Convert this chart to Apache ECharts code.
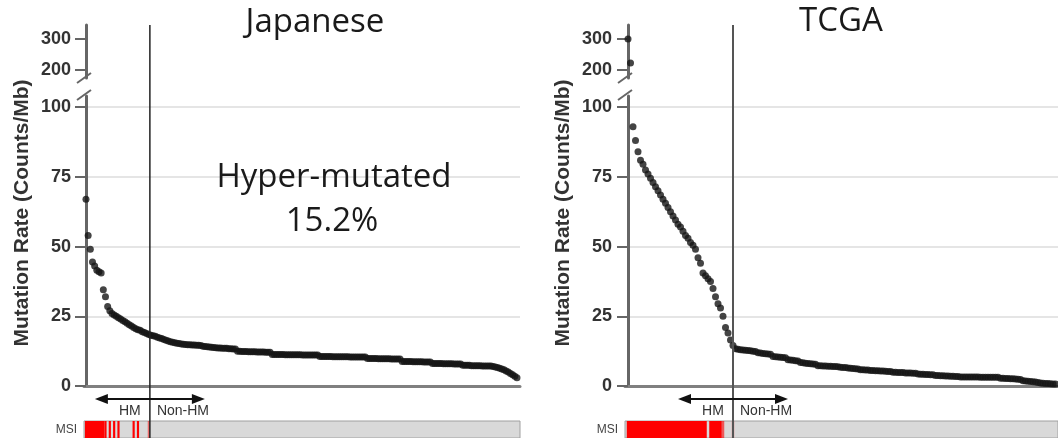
<!DOCTYPE html>
<html><head><meta charset="utf-8">
<script src="https://cdn.jsdelivr.net/npm/echarts@6/dist/echarts.min.js"></script>
<style>html,body{margin:0;padding:0;background:#fff}#c{width:1058px;height:438px}</style>
</head><body><div id="c"></div>
<script>
// ---------- data ----------
const panelTitles = ['Japanese', 'TCGA'];
const yAxisTitle = 'Mutation Rate (Counts/Mb)';
const annotationLines = ['Hyper-mutated', '15.2%'];
const lowerTicks = [0, 25, 50, 75, 100];
const upperTicks = [200, 300];
const hmLabels = ['HM', 'Non-HM'];

// Japanese cohort, samples sorted by mutation rate
const japaneseRates = [
  67, 54, 49, 44.5, 43, 41.5, 41, 40.5, 34.5, 32, 28.5, 27, 26, 25.5, 25, 24.5, 24, 23.5, 23, 22.5,
  22, 21.5, 21, 20.5, 20.2, 20, 19.5, 19.2, 18.8, 18.5,
  18.2, 18, 17.8, 17.5, 17.2, 17, 16.7, 16.4, 16.1, 15.9, 15.7, 15.5,
  15.3, 15.2, 15.1, 15.0, 14.9, 14.8, 14.8, 14.7, 14.7, 14.6, 14.6, 14.5,
  14.3, 14.2, 14.1, 14.0, 13.9, 13.8, 13.7,
  13.6, 13.6, 13.5, 13.5, 13.5, 13.4, 13.4, 13.3, 13.3,
  12.5, 12.5, 12.4, 12.4, 12.4, 12.3, 12.3, 12.3, 12.3, 12.2, 12.2, 12.2, 12.2, 12.1, 12.1, 12.1,
  11.3, 11.3, 11.3, 11.3, 11.3, 11.3, 11.2, 11.2, 11.2, 11.2, 11.2, 11.2, 11.2, 11.2, 11.1, 11.1, 11.1, 11.1, 11.1, 11.1, 11.1, 11.1,
  10.6, 10.6, 10.6, 10.6, 10.6, 10.6, 10.5, 10.5, 10.5, 10.5, 10.5, 10.5, 10.5, 10.5, 10.4, 10.4, 10.4, 10.4, 10.4, 10.4, 10.4, 10.4,
  9.9, 9.9, 9.9, 9.9, 9.9, 9.8, 9.8, 9.8, 9.8, 9.8, 9.8, 9.7, 9.7, 9.7, 9.7, 9.7,
  8.8, 8.8, 8.8, 8.8, 8.8, 8.7, 8.7, 8.7, 8.7, 8.7, 8.6, 8.6, 8.6, 8.6,
  8.1, 8.1, 8.1, 8.1, 8.1, 8.0, 8.0, 8.0, 8.0, 8.0, 7.9, 7.9, 7.9, 7.9,
  7.4, 7.4, 7.4, 7.4, 7.3, 7.3, 7.3, 7.3, 7.3, 7.2, 7.2, 7.2, 7.2, 7.2,
  7.0, 6.8, 6.6, 6.4, 6.1, 5.8, 5.4, 5.0, 4.5, 4.0, 3.5, 3.0
];

// TCGA cohort, samples sorted by mutation rate
const tcgaRates = [
  300, 222, 93, 88, 84, 81, 79.5, 77.5, 76, 74.5, 73, 71.5, 70, 68.5, 67, 65.5, 64, 62.5, 61, 59.5,
  58, 57, 55.5, 54, 53, 51.5, 50.5, 49, 46, 44, 40.5, 39.5, 38.5, 37.5, 35, 32, 29.5, 28, 25, 21,
  19, 16.5, 14.5,
  13.4, 13.2, 13.0, 12.9, 12.8, 12.7, 12.6, 12.5, 12.4,
  11.9, 11.8, 11.7, 11.6, 11.5, 11.4,
  10.6, 10.5, 10.4, 10.3, 10.2, 10.1,
  9.4, 9.3, 9.2, 9.1, 9.0,
  8.4, 8.3, 8.2, 8.1, 8.0, 7.9, 7.8,
  7.3, 7.3, 7.2, 7.2, 7.1, 7.1, 7.0, 7.0, 6.9,
  6.7, 6.6, 6.6, 6.5, 6.4, 6.3, 6.2, 6.1,
  5.8, 5.8, 5.7, 5.7, 5.6, 5.6, 5.5, 5.5, 5.4, 5.4, 5.3, 5.2, 5.2,
  4.9, 4.9, 4.8, 4.8, 4.8, 4.7, 4.7, 4.7, 4.6, 4.6,
  4.3, 4.2, 4.2, 4.1, 4.1, 4.0, 4.0,
  3.8, 3.8, 3.7, 3.7, 3.6, 3.6, 3.5, 3.5, 3.4, 3.4,
  3.2, 3.2, 3.2, 3.2, 3.2, 3.2, 3.2, 3.2, 3.1, 3.1, 3.1, 3.1, 3.1, 3.1, 3.1, 3.1,
  2.8, 2.8, 2.7, 2.7, 2.6, 2.6, 2.5, 2.4, 2.3,
  1.9, 1.8, 1.7, 1.6, 1.5, 1.4, 1.3,
  1.1, 1.0, 0.9, 0.9, 0.8, 0.7, 0.7
];

// HM / non-HM boundary (sample index)
const hmBoundary = [29.5, 42];

// MSI-high runs: [firstSample, lastSample, intensity]
const msiJapanese = [[0, 8, 1], [9, 9, 1], [11, 11, 1], [13, 13, 1], [15, 15, 1], [22, 22, 1], [24, 24, 1], [29, 29, 0.5]];
const msiTcga = [[0, 31, 1], [33, 37, 1], [38, 38, 0.6], [42, 42, 0.35]];

// ---------- layout ----------
const panels = [
  { rates: japaneseRates, msi: msiJapanese, left: 84, width: 436, xMin: -0.92, xMax: 200.4 },
  { rates: tcgaRates, msi: msiTcga, left: 625, width: 433, xMin: -1.2, xMax: 172 }
];
const BREAK_LO = 104, BREAK_HI = 174;
const AXIS_COLOR = '#666';
const LABEL_FONT = 'Liberation Sans, Arial, sans-serif';

const grid = [], xAxis = [], yAxis = [], series = [];
panels.forEach((p, k) => {
  const g0 = k * 3;
  grid.push({ left: p.left, top: 25, width: p.width, height: 53 });
  grid.push({ left: p.left, top: 96, width: p.width, height: 290 });
  grid.push({ left: p.left, top: 421, width: p.width, height: 20, show: true, backgroundColor: '#d9d9d9', borderColor: '#a0a0a0', borderWidth: 1 });
  for (let j = 0; j < 3; j++) {
    xAxis.push({
      type: 'value', gridIndex: g0 + j, min: p.xMin, max: p.xMax,
      axisLine: { show: j === 1, onZero: false, lineStyle: { color: '#808080', width: 3 } },
      axisTick: { show: false }, axisLabel: { show: false }, splitLine: { show: false }
    });
  }
  const labelStyle = { fontSize: 18, fontWeight: 'bold', color: '#333', fontFamily: LABEL_FONT, margin: 13 };
  yAxis.push({
    type: 'value', gridIndex: g0, min: BREAK_HI, max: 345,
    axisLine: { show: true, lineStyle: { color: AXIS_COLOR, width: 3 } },
    axisTick: { show: true, length: 11, customValues: upperTicks, lineStyle: { color: AXIS_COLOR, width: 2 } },
    axisLabel: Object.assign({ customValues: upperTicks }, labelStyle),
    splitLine: { show: false }
  });
  yAxis.push({
    type: 'value', gridIndex: g0 + 1, min: 0, max: BREAK_LO,
    axisLine: { show: true, lineStyle: { color: AXIS_COLOR, width: 3 } },
    axisTick: { show: true, length: 11, customValues: lowerTicks, lineStyle: { color: AXIS_COLOR, width: 2 } },
    axisLabel: Object.assign({ customValues: lowerTicks }, labelStyle),
    splitLine: { show: true, lineStyle: { color: '#dcdcdc', width: 1.5 } }
  });
  yAxis.push({ type: 'value', gridIndex: g0 + 2, min: 0, max: 1, show: false });

  const pts = p.rates.map((v, i) => [i, v]);
  const dot = { type: 'scatter', symbol: 'circle', symbolSize: 7, itemStyle: { color: '#151515' }, silent: true, z: 3 };
  series.push(Object.assign({ xAxisIndex: g0, yAxisIndex: g0, data: pts.filter(d => d[1] > BREAK_LO) }, dot));
  series.push(Object.assign({ xAxisIndex: g0 + 1, yAxisIndex: g0 + 1, data: pts.filter(d => d[1] <= BREAK_LO) }, dot));
  series.push({
    type: 'custom', xAxisIndex: g0 + 2, yAxisIndex: g0 + 2, data: p.msi, silent: true,
    renderItem: (params, api) => {
      const a = api.coord([api.value(0) - 0.5, 0]);
      const b = api.coord([api.value(1) + 0.5, 1]);
      return { type: 'rect', shape: { x: a[0], y: b[1], width: b[0] - a[0], height: a[1] - b[1] },
               style: { fill: '#ff0000', opacity: api.value(2) } };
    }
  });
});

const chart = echarts.init(document.getElementById('c'), null, { renderer: 'canvas' });
chart.setOption({ animation: false, backgroundColor: '#fff', grid, xAxis, yAxis, series });

// ---------- annotations ----------
const graphic = [];
const txt = (x, y, text, font, fill, align, rot) => ({
  type: 'text', x, y, rotation: rot || 0, silent: true, z: 10,
  style: { text, font, fill, textAlign: align || 'center', textVerticalAlign: 'middle' }
});
const line = (x1, y1, x2, y2, stroke, w) => ({
  type: 'line', silent: true, z: 9, shape: { x1, y1, x2, y2 }, style: { stroke, lineWidth: w }
});
panels.forEach((p, k) => {
  const ax = p.left;
  const bx = chart.convertToPixel({ xAxisIndex: k * 3 + 1 }, hmBoundary[k]);
  // boundary line
  graphic.push(line(bx, 25, bx, 438, k === 0 ? '#222' : '#555', k === 0 ? 1.5 : 2));
  // axis break marks
  graphic.push(line(ax - 7, 83, ax + 7, 73, AXIS_COLOR, 2));
  graphic.push(line(ax - 7, 100, ax + 7, 90, AXIS_COLOR, 2));
  // HM arrow
  const ay = 399, xl = bx - 55, xr = bx + 55;
  graphic.push(line(xl + 4, ay, xr - 4, ay, '#111', 2));
  graphic.push({ type: 'polygon', silent: true, z: 9, shape: { points: [[xl, ay], [xl + 13, ay - 5], [xl + 13, ay + 5]] }, style: { fill: '#111' } });
  graphic.push({ type: 'polygon', silent: true, z: 9, shape: { points: [[xr, ay], [xr - 13, ay - 5], [xr - 13, ay + 5]] }, style: { fill: '#111' } });
  graphic.push(txt(bx - 20, 411, hmLabels[0], '14px ' + LABEL_FONT, '#333', 'center'));
  graphic.push(txt(bx + 7, 411, hmLabels[1], '14px ' + LABEL_FONT, '#333', 'left'));
  // MSI label
  graphic.push(txt(ax - 7, 430, 'MSI', '12px ' + LABEL_FONT, '#444', 'right'));
  // y axis title
  graphic.push(txt(ax - 62, 213, yAxisTitle, 'bold 21px ' + LABEL_FONT, '#333', 'center', Math.PI / 2));
});
graphic.push(txt(315, 23, panelTitles[0], '33px "Open Sans", sans-serif', '#1a1a1a', 'center'));
graphic.push(txt(841, 22, panelTitles[1], '33px "Open Sans", sans-serif', '#1a1a1a', 'center'));
graphic.push(txt(334, 178, annotationLines[0], '33px "Open Sans", sans-serif', '#1a1a1a', 'center'));
graphic.push(txt(332, 222, annotationLines[1], '33px "Open Sans", sans-serif', '#1a1a1a', 'center'));
chart.setOption({ graphic });
</script>
</body></html>
